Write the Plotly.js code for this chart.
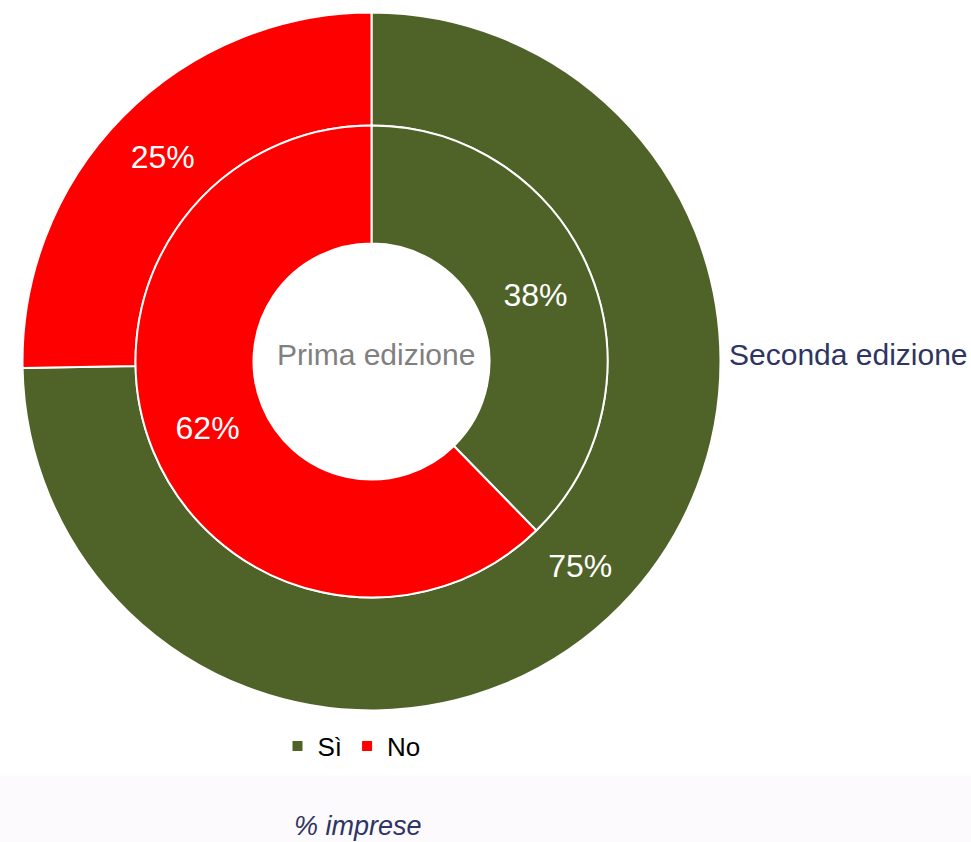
<!DOCTYPE html>
<html>
<head>
<meta charset="utf-8">
<script src="https://cdn.plot.ly/plotly-3.0.1.min.js"></script>
<style>html,body{margin:0;padding:0;background:#fff;}#chart{width:971px;height:842px;}</style>
</head>
<body>
<div id="chart"></div>
<script>
const categories = ['Sì', 'No'];
const secondaEdizione = [74.7, 25.3];
const primaEdizione = [37.7, 62.3];
const ringNames = ['Seconda edizione', 'Prima edizione'];
const colors = ['#4F6228', '#FF0000'];

const font = 'Arial, "Liberation Sans", sans-serif';

const outer = {
  type: 'pie', name: ringNames[0], labels: categories, values: secondaEdizione,
  sort: false, direction: 'clockwise', rotation: 0, hole: 0.676,
  domain: {x: [0.02317, 0.74202], y: [0.15618, 0.98515]},
  marker: {colors: colors, line: {color: '#FFFFFF', width: 2}},
  texttemplate: '%{percent:.0%}', textposition: 'inside', insidetextorientation: 'horizontal',
  textfont: {family: font, size: 32, color: '#FFFFFF'},
  hoverinfo: 'none', showlegend: true
};
const inner = {
  type: 'pie', name: ringNames[1], labels: categories, values: primaEdizione,
  sort: false, direction: 'clockwise', rotation: 0, hole: 0.5,
  domain: {x: [0.13955, 0.62564], y: [0.29038, 0.85095]},
  marker: {colors: colors, line: {color: '#FFFFFF', width: 2}},
  texttemplate: '%{percent:.0%}', textposition: 'inside', insidetextorientation: 'horizontal',
  textfont: {family: font, size: 32, color: '#FFFFFF'},
  hoverinfo: 'none', showlegend: false
};

const layout = {
  width: 971, height: 842,
  margin: {l: 0, r: 0, t: 0, b: 0},
  paper_bgcolor: '#FFFFFF',
  font: {family: font},
  showlegend: true,
  legend: {
    orientation: 'h', x: 0.362, xanchor: 'center', y: 1 - 746/842, yanchor: 'middle',
    font: {family: font, size: 26, color: '#000000'}, itemclick: false, itemdoubleclick: false
  },
  shapes: [{
    type: 'rect', xref: 'paper', yref: 'paper', x0: 0, x1: 1, y0: 0, y1: 1 - 776/842,
    fillcolor: '#FCFAFC', line: {width: 0}, layer: 'below'
  }],
  annotations: [
    {text: ringNames[0], x: 727/971, y: 1 - 355/842, xref: 'paper', yref: 'paper', xanchor: 'left', yanchor: 'middle',
     showarrow: false, font: {family: font, size: 30, color: '#2E3562'}},
    {text: ringNames[1], x: 376/971, y: 1 - 355/842, xref: 'paper', yref: 'paper', xanchor: 'center', yanchor: 'middle',
     showarrow: false, font: {family: font, size: 30, color: '#808080'}},
    {text: '<i>% imprese</i>', x: 358/971, y: 1 - 826/842, xref: 'paper', yref: 'paper', xanchor: 'center', yanchor: 'middle',
     showarrow: false, font: {family: font, size: 27, color: '#2E3562'}}
  ]
};

Plotly.newPlot('chart', [outer, inner], layout, {displayModeBar: false, staticPlot: true});
</script>
</body>
</html>
